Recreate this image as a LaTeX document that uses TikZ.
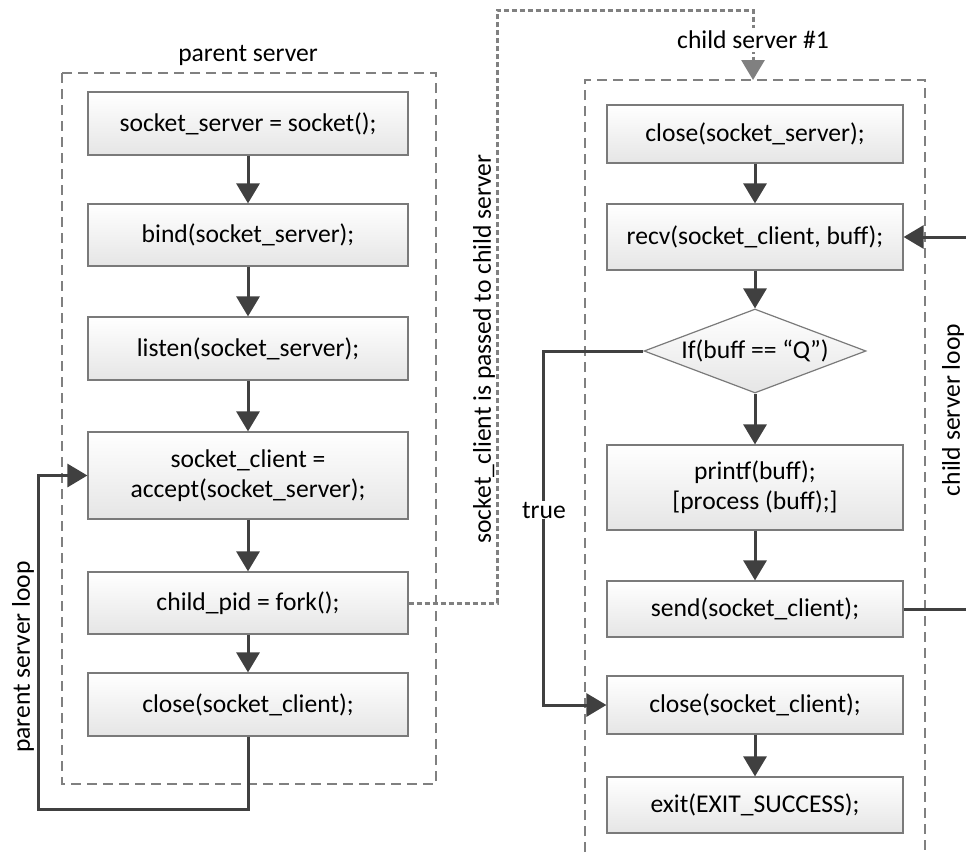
\documentclass[tikz,border=0pt]{standalone}
\usepackage{fontspec}
\setmainfont{Carlito}
\usetikzlibrary{arrows.meta,shapes.geometric}
\definecolor{flow}{HTML}{404040}
\definecolor{frame}{HTML}{808080}
\definecolor{boxline}{HTML}{7A7A7A}
\begin{document}
\begin{tikzpicture}[x=1pt,y=-1pt,
  every node/.style={font=\fontsize{25.6}{30}\selectfont, text=black},
  stepbox/.style={rectangle, draw=boxline, line width=1.2pt,
    top color=white, bottom color=black!10, align=center, inner sep=2pt},
  leftbox/.style={stepbox, minimum width=320pt},
  rightbox/.style={stepbox, minimum width=296pt},
  flowline/.style={draw=flow, line width=3pt},
  flowarrow/.style={flowline, -{Triangle[width=23pt,length=20pt]}},
  container/.style={draw=frame, line width=1.2pt, dash pattern=on 10pt off 6pt},
  handoff/.style={draw=frame, line width=3pt, dash pattern=on 5pt off 3pt},
  handoffarrow/.style={handoff, -{Triangle[width=23pt,length=20pt,fill=frame]}},
  gaplabel/.style={fill=white, inner sep=1pt}
]
\useasboundingbox (0,0) rectangle (966,854);

% ---- parent server ----
\draw[container] (62,73) rectangle (436,784);
\node (plabel) at (248,55) {parent server};

\node[leftbox, minimum height=63pt] (p1) at (248,123.5) {socket\_server = socket();};
\node[leftbox, minimum height=62pt] (p2) at (248,235) {bind(socket\_server);};
\node[leftbox, minimum height=63pt] (p3) at (248,348.5) {listen(socket\_server);};
\node[leftbox, minimum height=87pt] (p4) at (248,475.5) {socket\_client =\\accept(socket\_server);};
\node[leftbox, minimum height=62pt] (p5) at (248,603) {child\_pid = fork();};
\node[leftbox, minimum height=63pt] (p6) at (248,704.5) {close(socket\_client);};

\draw[flowarrow] (p1) -- (p2);
\draw[flowarrow] (p2) -- (p3);
\draw[flowarrow] (p3) -- (p4);
\draw[flowarrow] (p4) -- (p5);
\draw[flowarrow] (p5) -- (p6);

% parent loop back to accept()
\coordinate (pl1) at (248,809);
\coordinate (pl2) at (38,809);
\coordinate (pl3) at (38,475.5);
\draw[flowarrow] (p6.south) -- (pl1) -- (pl2) -- (pl3) -- (p4.west);
\node[rotate=90] (ploop) at (23,657) {parent server loop};

% ---- child server ----
\draw[container] (585,900) -- (585,80) -- (925,80) -- (925,900);

\node[rightbox, minimum height=58pt] (c1) at (755,134) {close(socket\_server);};
\node[rightbox, minimum height=66pt] (c2) at (755,237) {recv(socket\_client, buff);};
\node[diamond, draw=boxline, line width=1.2pt, top color=white, bottom color=black!10,
      inner sep=0pt, minimum width=222pt, minimum height=84pt,
      label={center:If(buff == “Q”)}] (cq) at (755,351) {};
\node[rightbox, minimum height=85pt] (c3) at (755,487.5) {printf(buff);\\{}[process (buff);]};
\node[rightbox, minimum height=56pt] (c4) at (755,609) {send(socket\_client);};
\node[rightbox, minimum height=58pt] (c5) at (755,705) {close(socket\_client);};
\node[rightbox, minimum height=56pt] (c6) at (755,805) {exit(EXIT\_SUCCESS);};

\draw[flowarrow] (c1) -- (c2);
\draw[flowarrow] (c2) -- (cq);
\draw[flowarrow] (cq) -- (c3);
\draw[flowarrow] (c3) -- (c4);
\draw[flowarrow] (c5) -- (c6);

% quit branch
\coordinate (t1) at (543,351);
\coordinate (t2) at (543,705);
\draw[flowarrow] (cq.west) -- (t1) -- (t2) -- (c5.west);
\node[gaplabel] (tlabel) at (544,510) {true};

% child loop back to recv()
\coordinate (cl1) at (995,609);
\coordinate (cl2) at (995,237);
\draw[flowarrow] (c4.east) -- (cl1) -- (cl2) -- (c2.east);
\node[rotate=90] (cloop) at (953,410) {child server loop};

% ---- hand-off from fork() to the child ----
\coordinate (h1) at (497,603);
\coordinate (h2) at (497,10);
\coordinate (h3) at (753,10);
\coordinate (h4) at (753,80);
\draw[handoffarrow] (p5.east) -- (h1) -- (h2) -- (h3) -- (h4);
\node[gaplabel, inner sep=3pt] (clabel) at (753,40) {child server \#1};
\node[rotate=90] (hlabel) at (484,349) {socket\_client is passed to child server};
\end{tikzpicture}
\end{document}
